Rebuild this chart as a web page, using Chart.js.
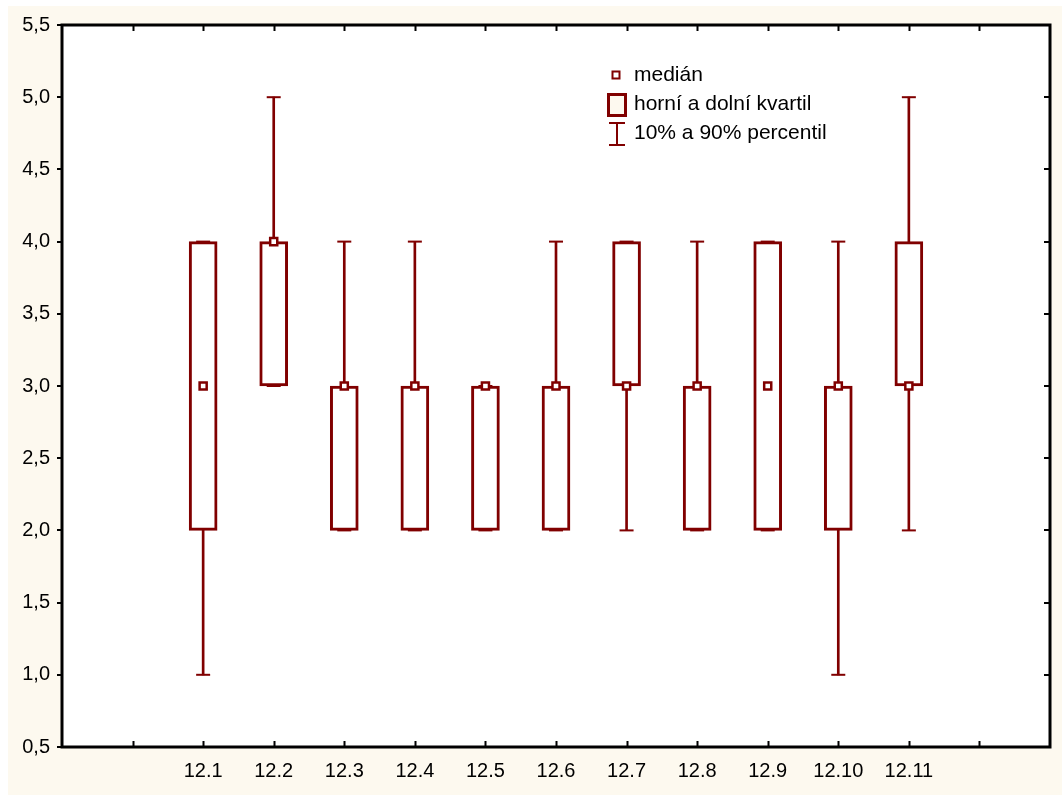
<!DOCTYPE html>
<html>
<head>
<meta charset="utf-8">
<script src="https://cdn.jsdelivr.net/npm/chart.js@4.4.1/dist/chart.umd.min.js"></script>
<style>
  html, body { margin: 0; padding: 0; background: #fff; }
  #wrap { width: 1062px; height: 796px; }
</style>
</head>
<body>
<div id="wrap"><canvas id="mycanvas" width="1062" height="796"></canvas></div>
<script>
// otázky 12.1 - 12.11
var categories = ['12.1', '12.2', '12.3', '12.4', '12.5', '12.6', '12.7', '12.8', '12.9', '12.10', '12.11'];
var median = [3, 4, 3, 3, 3, 3, 3, 3, 3, 3, 3];
var q1     = [2, 3, 2, 2, 2, 2, 3, 2, 2, 2, 3];
var q3     = [4, 4, 3, 3, 3, 3, 4, 3, 4, 3, 4];
var p10    = [1, 3, 2, 2, 2, 2, 2, 2, 2, 1, 2];
var p90    = [4, 5, 4, 4, 3, 4, 4, 4, 4, 4, 5];
var yTicks = [0.5, 1.0, 1.5, 2.0, 2.5, 3.0, 3.5, 4.0, 4.5, 5.0, 5.5];

var RED = '#800000';
var FONT = '"Liberation Sans", Arial, sans-serif';

// two empty slots on each side of the boxes
function pad(arr) {
  return [null, null].concat(arr, [null, null]);
}
var labels = pad(categories).map(function(c) { return c || ''; });

var boxes = pad(q1.map(function(v, i) { return [v, q3[i]]; }));
var whiskers = pad(p10.map(function(v, i) { return [v, p90[i]]; }));

var bgPlugin = {
  id: 'bg',
  beforeDraw: function(chart) {
    var c = chart.ctx, a = chart.chartArea;
    c.save();
    c.fillStyle = '#fff';
    c.fillRect(0, 0, chart.width, chart.height);
    c.fillStyle = '#fdf9ef';
    c.fillRect(8, 6, chart.width - 8, 789);
    c.fillStyle = '#fff';
    c.fillRect(a.left, a.top, a.right - a.left, a.bottom - a.top);
    c.restore();
  }
};

var framePlugin = {
  id: 'frame',
  afterDatasetsDraw: function(chart) {
    var c = chart.ctx, a = chart.chartArea;
    var x = chart.scales.x, y = chart.scales.y;
    c.save();
    c.strokeStyle = '#000';
    c.lineWidth = 2;
    c.beginPath();
    // inner ticks top and bottom
    for (var i = 1; i < labels.length - 1; i++) {
      var px = Math.round(x.getPixelForValue(i)) + 0.5;
      c.moveTo(px, a.bottom); c.lineTo(px, a.bottom - 6);
      c.moveTo(px, a.top); c.lineTo(px, a.top + 6);
    }
    // left ticks outward, right ticks inward
    yTicks.forEach(function(v) {
      var py = Math.round(y.getPixelForValue(v));
      c.moveTo(a.left, py); c.lineTo(a.left - 5, py);
      c.moveTo(a.right, py); c.lineTo(a.right - 6, py);
    });
    c.stroke();
    c.lineWidth = 3;
    c.strokeRect(a.left, a.top, a.right - a.left, a.bottom - a.top);
    c.restore();
  }
};

var legendPlugin = {
  id: 'boxLegend',
  afterDraw: function(chart) {
    var c = chart.ctx;
    c.save();
    c.strokeStyle = RED;
    // median
    c.lineWidth = 2;
    c.fillStyle = '#fff';
    c.fillRect(612.5, 71.5, 7, 7);
    c.strokeRect(612.5, 71.5, 7, 7);
    // quartile box
    c.lineWidth = 3;
    c.fillStyle = '#fdf9ef';
    c.fillRect(608.5, 94.5, 17, 21);
    c.strokeRect(608.5, 94.5, 17, 21);
    // percentile whisker
    c.lineWidth = 2;
    c.beginPath();
    c.moveTo(609, 123); c.lineTo(625, 123);
    c.moveTo(617, 123); c.lineTo(617, 145);
    c.moveTo(609, 145); c.lineTo(625, 145);
    c.stroke();

    c.fillStyle = '#000';
    c.font = '21px ' + FONT;
    c.textBaseline = 'middle';
    c.textAlign = 'left';
    c.fillText('medián', 634, 75);
    c.fillText('horní a dolní kvartil', 634, 104);
    c.fillText('10% a 90% percentil', 634, 133);
    c.restore();
  }
};

var ctx = document.getElementById('mycanvas');

var chartdata = {
  labels: labels,
  datasets: [
    {
      type: 'bar',
      label: '10% a 90% percentil',
      data: whiskers,
      backgroundColor: RED,
      borderWidth: 0,
      barThickness: 2,
      grouped: false,
      order: 4
    },
    {
      type: 'bar',
      label: 'horní a dolní kvartil',
      data: boxes,
      backgroundColor: '#fff',
      borderColor: RED,
      borderWidth: 3,
      borderSkipped: false,
      barThickness: 28,
      grouped: false,
      order: 3
    },
    {
      type: 'line',
      label: '10%',
      data: pad(p10),
      showLine: false,
      pointStyle: 'line',
      pointRadius: 7,
      pointHoverRadius: 7,
      pointBorderWidth: 2,
      pointBorderColor: RED,
      order: 2
    },
    {
      type: 'line',
      label: '90%',
      data: pad(p90),
      showLine: false,
      pointStyle: 'line',
      pointRadius: 7,
      pointHoverRadius: 7,
      pointBorderWidth: 2,
      pointBorderColor: RED,
      order: 2
    },
    {
      type: 'line',
      label: 'medián',
      data: pad(median),
      showLine: false,
      pointStyle: 'rect',
      pointRadius: 5,
      pointHoverRadius: 5,
      pointBorderWidth: 2.5,
      pointBorderColor: RED,
      pointBackgroundColor: '#fff',
      order: 1
    }
  ]
};

var boxChart = new Chart(ctx, {
  type: 'bar',
  data: chartdata,
  options: {
    responsive: false,
    animation: false,
    devicePixelRatio: 1,
    events: [],
    layout: { padding: { top: 25, right: 8, left: 0, bottom: 0 } },
    plugins: {
      legend: { display: false },
      tooltip: { enabled: false }
    },
    scales: {
      x: {
        type: 'category',
        offset: false,
        grid: { display: false, drawTicks: false },
        border: { display: false },
        ticks: {
          autoSkip: false,
          maxRotation: 0,
          padding: 12,
          color: '#000',
          font: { family: FONT, size: 20 }
        },
        afterFit: function(scale) { scale.height = 49; }
      },
      y: {
        min: 0.5,
        max: 5.5,
        grid: { display: false, drawTicks: true, tickLength: 5 },
        border: { display: false },
        ticks: {
          stepSize: 0.5,
          padding: 7,
          color: '#000',
          font: { family: FONT, size: 20 },
          callback: function(v) { return v.toFixed(1).replace('.', ','); }
        },
        afterFit: function(scale) { scale.width = 62; }
      }
    }
  },
  plugins: [bgPlugin, framePlugin, legendPlugin]
});
</script>
</body>
</html>
